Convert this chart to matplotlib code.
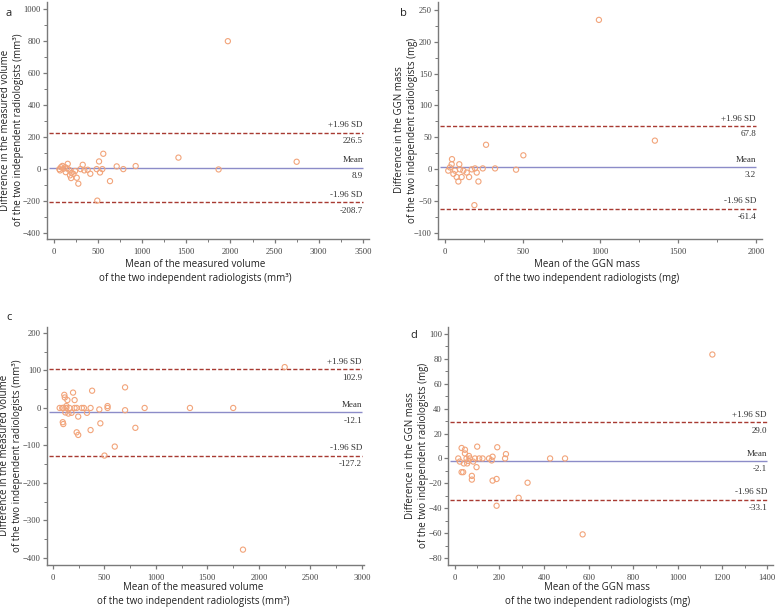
import matplotlib
matplotlib.use("Agg")
import matplotlib.pyplot as plt
from matplotlib.ticker import MultipleLocator

# panel a: volume, first comparison
a_x = [1970, 1410, 2750, 1865, 558, 510, 710, 785, 925, 634, 490, 483, 521, 547,
       325, 381, 411, 343, 275, 193, 257, 155, 125, 106, 79, 68, 132, 170, 200,
       238, 220, 181, 60, 95, 145, 300]
a_y = [800, 72, 46, -2, 96, 48, 17, 0, 19, -75, -197, 0, -21, 0,
       27, -4, -29, -8, -91, -56, -54, 33, 12, 2, 12, -8, -19, -4, -23,
       -12, -30, -39, 0, 20, 5, 0]
a_stats = [226.5, 8.9, -208.7]

# panel b: mass, first comparison
b_x = [990, 1350, 264, 504, 322, 457, 243, 193, 204, 215, 155, 189, 45, 92, 86,
       75, 107, 54, 32, 21, 64, 118, 172, 140, 43, 97]
b_y = [234, 45, 38.5, 22, 1.5, -0.5, 1.5, 1.5, -5, -19, -12, -56, 16, 8, -19,
       -12, -12, -7, 3, -2, -2, -2, 0, -5, 8, 0]
b_stats = [67.8, 3.2, -61.4]

# panel c: volume, second comparison
c_x = [1845, 2250, 1750, 1330, 890, 700, 700, 800, 600, 500, 530, 530, 450, 460,
       380, 365, 365, 330, 300, 280, 245, 230, 245, 210, 195, 210, 230, 180, 150,
       140, 130, 110, 115, 100, 90, 65, 120, 95, 100, 160, 130]
c_y = [-378, 109, 0, 0, 0, 55, -6, -53, -103, -127, 5, 0, -4, -41,
       46, -59, 0, -13, 0, 0, -23, -65, -72, 21, 41, 0, 0, -13, -15,
       21, 5, 35, 28, 0, 0, 0, -12, -38, -43, 0, 0]
c_stats = [102.9, -12.1, -127.2]

# panel d: mass, second comparison
d_x = [1155, 573, 494, 427, 326, 286, 187, 229, 225, 190, 187, 169, 169, 165, 153,
       124, 109, 100, 97, 76, 76, 67, 63, 45, 45, 30, 30, 37, 15, 40, 55, 60, 90,
       82, 22, 52]
d_y = [83.5, -61, 0, 0, -19.5, -31.6, -38, 3.5, 0, 9, -16.5, -17.8, 1.4, -1.6, 0,
       0, 0, 9.5, -7, -14, -17, 0, 2, 7, 4, 8.4, -11, -11, 0, -4, -4, -2, 0,
       -2.5, -2.5, 0]
d_stats = [29.0, -2.1, -33.1]

W, H = 777, 611
fig = plt.figure(figsize=(W / 100, H / 100), dpi=100)

SANS = "Open Sans"
SERIF = "Liberation Serif"
GREY = "#7a7a7a"
CIRC = "#f2a47a"
RED = "#a83a32"
BLUE = "#8c8cc8"


def panel(box, x, y, stats, xlim, ylim, xmaj, xmin, ymaj, ymin, xend,
          letter, letter_pos, ylab, xlab, ylab_x, xlab_top):
    l, t, r, b = box
    aw, ah = r - l, b - t
    ax = fig.add_axes([l / W, 1 - b / H, aw / W, ah / H])
    for s in ["top", "right"]:
        ax.spines[s].set_visible(False)
    for s in ["left", "bottom"]:
        ax.spines[s].set_color(GREY)
        ax.spines[s].set_linewidth(1.0)
    ax.set_xlim(*xlim)
    ax.set_ylim(*ylim)
    ax.xaxis.set_major_locator(MultipleLocator(xmaj))
    ax.xaxis.set_minor_locator(MultipleLocator(xmin))
    ax.yaxis.set_major_locator(MultipleLocator(ymaj))
    ax.yaxis.set_minor_locator(MultipleLocator(ymin))
    ax.tick_params(which="major", length=3.2, width=0.9, color=GREY, labelsize=6.2,
                   labelcolor="#444444", pad=1.2)
    ax.tick_params(axis="x", which="major", pad=3)
    ax.tick_params(which="minor", length=2.2, width=0.7, color=GREY)
    for lab in ax.get_xticklabels() + ax.get_yticklabels():
        lab.set_fontfamily(SERIF)

    x0 = xlim[0] + (xlim[1] - xlim[0]) * 0.005
    up, mean, lo = stats
    ax.hlines([up, lo], x0, xend, colors=RED, linestyles=(0, (3, 1.5)), lw=1.0, zorder=2)
    ax.hlines(mean, x0, xend, colors=BLUE, lw=1.0, zorder=2)
    ax.scatter(x, y, s=14, facecolors="none", edgecolors=CIRC, linewidths=0.8, zorder=3)

    for val, name in [(up, "+1.96 SD"), (mean, "Mean"), (lo, "-1.96 SD")]:
        ax.annotate(name, (xend, val), xytext=(0, 2.5), textcoords="offset points",
                    ha="right", va="bottom", fontsize=6.5, family=SERIF, color="#333333")
        ax.annotate("{:.1f}".format(val), (xend, val), xytext=(0, -3), textcoords="offset points",
                    ha="right", va="top", fontsize=6.5, family=SERIF, color="#333333")

    ax.set_ylabel(ylab, fontsize=7, family=SANS, color="#222222", linespacing=1.22)
    ax.yaxis.set_label_coords((ylab_x - l) / aw, 0.46)
    ax.set_xlabel(xlab, fontsize=7, family=SANS, color="#222222", linespacing=1.42)
    ax.xaxis.set_label_coords(0.46, (b - xlab_top) / ah)
    fig.text(letter_pos[0] / W, 1 - letter_pos[1] / H, letter, fontsize=8, family=SANS,
             ha="left", va="center", color="#222222")
    return ax


panel((47, 2, 369, 239), a_x, a_y, a_stats, (-80, 3570), (-437, 1045), 500, 250, 200, 100,
      3500, "a", (6, 13),
      "Difference in the measured volume\nof the two independent radiologists (mm³)",
      "Mean of the measured volume\nof the two independent radiologists (mm³)",
      24, 259)

panel((438, 2, 762, 239), b_x, b_y, b_stats, (-45, 2039), (-109, 262), 500, 250, 50, 25,
      2000, "b", (400, 13),
      "Difference in the GGN mass\nof the two independent radiologists (mg)",
      "Mean of the GGN mass\nof the two independent radiologists (mg)",
      418, 259)

panel((47, 327, 364, 565), c_x, c_y, c_stats, (-58, 3020), (-419, 216), 500, 250, 100, 50,
      3000, "c", (6, 318),
      "Difference in the measured volume\nof the two independent radiologists (mm³)",
      "Mean of the measured volume\nof the two independent radiologists (mm³)",
      23, 582)

panel((448, 327, 773, 565), d_x, d_y, d_stats, (-31, 1427), (-85.6, 105.6), 200, 100, 20, 10,
      1400, "d", (410, 335),
      "Difference in the GGN mass\nof the two independent radiologists (mg)",
      "Mean of the GGN mass\nof the two independent radiologists (mg)",
      429, 582)

fig.savefig("out.png", dpi=100)
